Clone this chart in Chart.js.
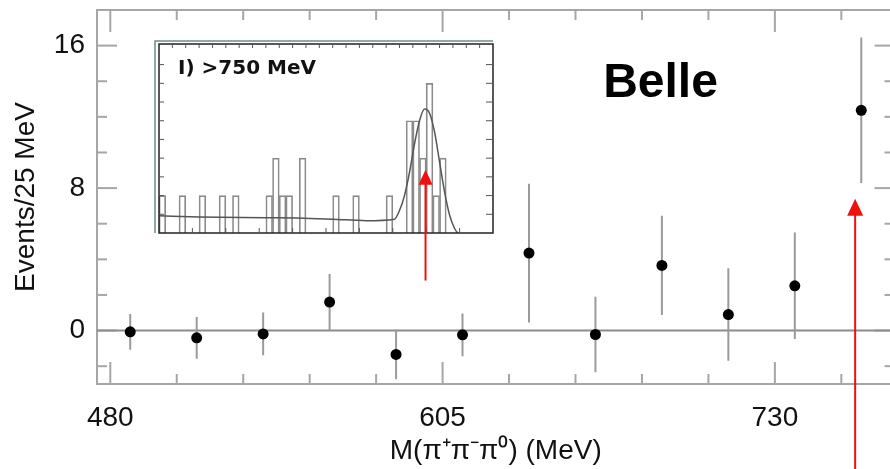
<!DOCTYPE html>
<html>
<head>
<meta charset="utf-8">
<script src="https://cdn.jsdelivr.net/npm/chart.js@4.4.1/dist/chart.umd.min.js"></script>
<style>
  html, body { margin: 0; padding: 0; background: #fff; overflow: hidden; }
  #wrap { position: relative; width: 890px; height: 469px; overflow: hidden; }
  #main { position: absolute; left: 0; top: 0; }
  #inset { position: absolute; left: 154px; top: 39px; }
</style>
</head>
<body>
<div id="wrap">
  <canvas id="main" width="900" height="469"></canvas>
  <canvas id="inset" width="341" height="250"></canvas>
</div>
<script>
// main plot, 25 MeV bins of M(pi+ pi- pi0)
const massBins = [487.5, 512.5, 537.5, 562.5, 587.5, 612.5, 637.5, 662.5, 687.5, 712.5, 737.5, 762.5]
const events = [-0.07, -0.41, -0.19, 1.6, -1.34, -0.24, 4.35, -0.22, 3.66, 0.9, 2.51, 12.37]
const eventErrs = [1.0, 1.17, 1.2, 1.58, 1.4, 1.2, 3.89, 2.12, 2.79, 2.6, 2.99, 4.08]

const xLabelTicks = [480, 605, 730]
const xMinorTicks = [505, 530, 555, 580, 630, 655, 680, 705, 755]
const yLabelTicks = [0, 8, 16]
const yMinorTicks = [-2, 2, 4, 6, 10, 12, 14]

// red arrow on the main plot (MeV, events)
const arrowMass = 760.2
const arrowTip = 7.4

// inset histogram "I) >750 MeV", 50 bins
const insetCounts = [1, 0, 0, 1, 0, 0, 1, 0, 0, 1,
                     0, 1, 0, 0, 0, 0, 1, 2, 1, 1,
                     0, 2, 0, 0, 0, 0, 1, 0, 0, 1,
                     0, 0, 0, 0, 1, 0, 0, 3, 3, 2,
                     4, 1, 2, 0, 0, 0, 0, 0, 0, 0]
const fitX = [0, 6, 16, 20.5, 26, 31, 35.25, 36, 36.75, 37.5, 38.25, 39, 39.75, 40.5, 41.25, 42, 42.75, 43.5, 44.25, 44.7]
const fitY = [0.46, 0.43, 0.41, 0.4, 0.37, 0.33, 0.37, 0.6, 1.0, 1.62, 2.38, 3.0, 3.31, 3.2, 2.7, 1.9, 1.1, 0.48, 0.12, 0]
const insetArrowBin = 39.9
const insetArrowTip = 1.69
const insetArrowTail = -1.27

const FONT = '"Liberation Sans", Arial, sans-serif'

function drawArrow(ctx, x, yTail, yTip, headLen, headW) {
  ctx.save()
  ctx.strokeStyle = '#f01010'
  ctx.fillStyle = '#f01010'
  ctx.lineWidth = 2
  ctx.beginPath()
  ctx.moveTo(x, yTail)
  ctx.lineTo(x, yTip + headLen - 1)
  ctx.stroke()
  ctx.beginPath()
  ctx.moveTo(x, yTip)
  ctx.lineTo(x - headW / 2, yTip + headLen)
  ctx.lineTo(x + headW / 2, yTip + headLen)
  ctx.closePath()
  ctx.fill()
  ctx.restore()
}

const errorBars = []
massBins.forEach((m, i) => {
  errorBars.push({x: m, y: events[i] - eventErrs[i]}, {x: m, y: events[i] + eventErrs[i]}, {x: m, y: null})
})

const frameTicks = {
  id: 'frameTicks',
  beforeDatasetsDraw(chart) {
    const {ctx, chartArea: a, scales: {x, y}} = chart
    ctx.save()
    ctx.strokeStyle = '#a6a6a6'
    ctx.lineWidth = 2
    ctx.strokeRect(a.left, a.top, a.right - a.left, a.bottom - a.top)

    const tick = (x1, y1, x2, y2) => { ctx.beginPath(); ctx.moveTo(x1, y1); ctx.lineTo(x2, y2); ctx.stroke() }
    xLabelTicks.forEach(v => { const p = x.getPixelForValue(v); tick(p, a.bottom, p, a.bottom - 22); tick(p, a.top, p, a.top + 22) })
    xMinorTicks.forEach(v => { const p = x.getPixelForValue(v); tick(p, a.bottom, p, a.bottom - 10); tick(p, a.top, p, a.top + 10) })
    yLabelTicks.forEach(v => { const p = y.getPixelForValue(v); tick(a.left, p, a.left + 20, p); tick(a.right, p, a.right - 20, p) })
    yMinorTicks.forEach(v => { const p = y.getPixelForValue(v); tick(a.left, p, a.left + 10, p); tick(a.right, p, a.right - 10, p) })

    ctx.strokeStyle = '#8c8c8c'
    const y0 = y.getPixelForValue(0)
    tick(a.left, y0, a.right, y0)
    ctx.restore()
  },
  afterDraw(chart) {
    const {ctx, scales: {x, y}} = chart
    ctx.save()
    ctx.fillStyle = '#000'
    ctx.font = 'bold 48px ' + FONT
    ctx.textBaseline = 'alphabetic'
    ctx.fillText('Belle', x.getPixelForValue(665.4), y.getPixelForValue(13.1))
    ctx.restore()
    drawArrow(ctx, x.getPixelForValue(arrowMass), chart.height + 2, y.getPixelForValue(arrowTip), 17, 16)
  }
}

new Chart(document.getElementById('main'), {
  type: 'scatter',
  data: {
    datasets: [
      {
        type: 'scatter',
        data: massBins.map((m, i) => ({x: m, y: events[i]})),
        pointRadius: 5.5,
        pointBackgroundColor: '#000',
        pointBorderWidth: 0,
        order: 0
      },
      {
        type: 'line',
        data: errorBars,
        borderColor: '#9a9a9a',
        borderWidth: 2,
        pointRadius: 0,
        spanGaps: false,
        order: 1
      }
    ]
  },
  options: {
    responsive: false,
    animation: false,
    layout: { padding: { left: 0, top: 10, right: 1, bottom: 0 } },
    plugins: { legend: { display: false }, tooltip: { enabled: false } },
    scales: {
      x: {
        type: 'linear', min: 475, max: 775,
        grid: { display: false, drawTicks: false },
        border: { display: false },
        afterBuildTicks: s => { s.ticks = xLabelTicks.map(v => ({value: v})) },
        afterFit: s => { s.height = 85; s.paddingLeft = 0; s.paddingRight = 0 },
        ticks: { font: { family: FONT, size: 28 }, color: '#111', padding: 17, maxRotation: 0, autoSkip: false },
        title: { display: true, text: 'M(π⁺π⁻π⁰) (MeV)', font: { family: FONT, size: 28 }, color: '#111', padding: { top: 0, bottom: 1 } }
      },
      y: {
        min: -3, max: 18,
        grid: { display: false, drawTicks: false },
        border: { display: false },
        afterBuildTicks: s => { s.ticks = yLabelTicks.map(v => ({value: v})) },
        afterFit: s => { s.width = 97; s.paddingTop = 0; s.paddingBottom = 0 },
        ticks: { font: { family: FONT, size: 28 }, color: '#111', padding: 12 },
        title: { display: true, text: 'Events/25 MeV', font: { family: FONT, size: 28 }, color: '#111', padding: { top: 9, bottom: 0 } }
      }
    }
  },
  plugins: [frameTicks]
})

const insetDeco = {
  id: 'insetDeco',
  beforeDraw(chart) {
    const {ctx, chartArea: a} = chart
    ctx.save()
    ctx.fillStyle = '#fff'
    ctx.fillRect(0, 0, a.right + 2, a.bottom + 1)
    ctx.strokeStyle = '#6d8c8c'
    ctx.lineWidth = 1.5
    ctx.beginPath()
    ctx.moveTo(1, a.bottom)
    ctx.lineTo(1, 2)
    ctx.lineTo(a.right, 2)
    ctx.stroke()
    ctx.restore()
  },
  afterDraw(chart) {
    const {ctx, chartArea: a, scales: {x, y}} = chart
    ctx.save()
    ctx.strokeStyle = '#222'
    ctx.lineWidth = 1.5
    ctx.strokeRect(a.left, a.top, a.right - a.left, a.bottom - a.top)
    ctx.lineWidth = 1
    ctx.strokeStyle = '#555'
    const tick = (x1, y1, x2, y2) => { ctx.beginPath(); ctx.moveTo(x1, y1); ctx.lineTo(x2, y2); ctx.stroke() }
    for (let c = 0.5; c < 5; c += 0.5) {
      const p = y.getPixelForValue(c)
      tick(a.left, p, a.left + 5, p)
      tick(a.right, p, a.right - 7, p)
    }
    for (let b = 2; b < 50; b += 2) {
      const p = x.getPixelForValue(b)
      tick(p, a.top, p, a.top + 4)
    }
    for (let b = 5; b < 50; b += 5) {
      const p = x.getPixelForValue(b)
      tick(p, a.bottom, p, a.bottom - 5)
    }
    ctx.fillStyle = '#111'
    ctx.font = 'bold 20px "DejaVu Sans", sans-serif'
    ctx.fillText('I) >750 MeV', a.left + 19, a.top + 30)
    ctx.restore()
    drawArrow(ctx, x.getPixelForValue(insetArrowBin), y.getPixelForValue(insetArrowTail), y.getPixelForValue(insetArrowTip), 15, 14)
  }
}

new Chart(document.getElementById('inset'), {
  type: 'bar',
  data: {
    datasets: [
      {
        type: 'line',
        data: fitX.map((v, i) => ({x: v, y: fitY[i]})),
        borderColor: '#555',
        borderWidth: 1.5,
        pointRadius: 0,
        cubicInterpolationMode: 'monotone',
        order: 0
      },
      {
        type: 'bar',
        data: insetCounts.map((c, i) => ({x: i + 0.5, y: c})),
        backgroundColor: 'rgba(0,0,0,0)',
        borderColor: '#8a8a8a',
        borderWidth: 1,
        barPercentage: 1,
        categoryPercentage: 1,
        order: 1
      }
    ]
  },
  options: {
    responsive: false,
    animation: false,
    layout: { padding: { left: 5, top: 5, right: 2, bottom: 56 } },
    plugins: { legend: { display: false }, tooltip: { enabled: false } },
    scales: {
      x: { type: 'linear', min: 0, max: 50, offset: false, display: false },
      y: { min: 0, max: 5.05, display: false }
    }
  },
  plugins: [insetDeco]
})
</script>
</body>
</html>
